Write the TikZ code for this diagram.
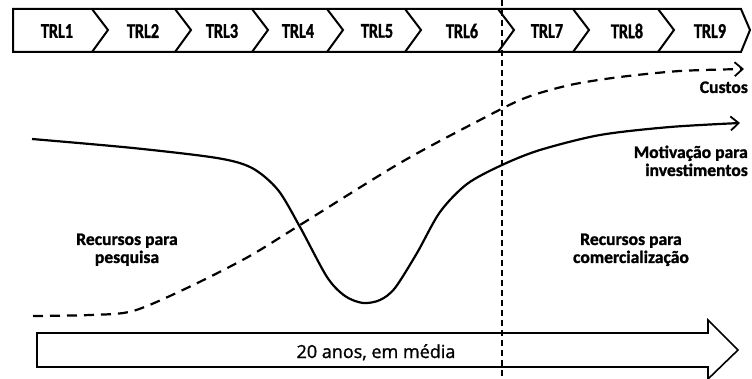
\documentclass[tikz,border=0pt]{standalone}
\usepackage{fontspec}
\setmainfont{Carlito}
\newfontfamily\trlfont[FakeStretch=0.77,BoldFeatures={FakeBold=1.2}]{Carlito}
\newfontfamily\txtfont[BoldFeatures={FakeBold=1.3}]{Carlito}
\newfontfamily\durfont[FakeBold=1.2]{Open Sans}
\usetikzlibrary{arrows.meta}
\begin{document}
\begin{tikzpicture}[x=1pt,y=-1pt,
  lbl/.style={font=\trlfont\bfseries\fontsize{21}{23}\selectfont, inner sep=0pt},
  txt/.style={font=\txtfont\bfseries\fontsize{17.6}{19}\selectfont, inner sep=0pt},
  outline/.style={line width=2pt, line join=miter},
  tip/.style={-{Straight Barb[length=8pt,width=14pt,line width=1.8pt]}},
  curve/.style={line width=2.2pt, tip},
  dcurve/.style={line width=2.2pt, dash pattern=on 10pt off 7pt, tip},
  vdash/.style={line width=1.1pt, dash pattern=on 6pt off 4pt}]
\useasboundingbox (0,0) rectangle (752,379);
% chevron band
\draw[outline] (13,9) -- (741,9) -- (750,30) -- (741,52) -- (13,52) -- cycle;
\foreach \b in {92,175,252,327,405,498,573,658}{
  \draw[outline] (\b,9) -- (\b+16,30) -- (\b,52);
}
\node[lbl] (t1) at (57,31) {TRL1};
\node[lbl] (t2) at (143,31) {TRL2};
\node[lbl] (t3) at (222,31) {TRL3};
\node[lbl] (t4) at (298,31) {TRL4};
\node[lbl] (t5) at (377,31) {TRL5};
\node[lbl] (t6) at (462,31) {TRL6};
\node[lbl] (t7) at (547,31) {TRL7};
\node[lbl] (t8) at (627,31) {TRL8};
\node[lbl] (t9) at (710,31) {TRL9};
% vertical dashed line
\coordinate (vtop) at (502,0);
\coordinate (vbot) at (502,379);
\draw[vdash] (vtop) -- (vbot);
% big arrow
\draw[line width=1.6pt, line join=miter] (37,333) -- (708,333) -- (708,320) -- (738,350) -- (708,379) -- (708,367) -- (37,367) -- cycle;
\node[font=\durfont\fontsize{18}{20}\selectfont, inner sep=0pt, anchor=base] (dur) at (376,358) {20 anos, em média};
% curves
\draw[curve] plot[smooth, tension=0.5] coordinates {(32,139) (133,148) (217,158) (252,168) (278,190) (300,227) (327,277) (345,296) (363,303) (380,300) (395,288) (417,253) (440,212) (467,184) (502,165) (540,150) (600,135) (670,127) (740,123)};
\draw[dcurve] plot[smooth, tension=0.5] coordinates {(33,316) (90,315) (133,311) (187,288) (248,257) (300,225) (400,163) (480,120) (525,98) (570,85) (620,77) (680,71) (744,69)};
% labels
\node[txt, anchor=base east] (cust) at (748,93) {Custos};
\node[txt, anchor=base east] (motiv1) at (748,158) {Motivação para};
\node[txt, anchor=base east] (motiv2) at (748,176) {investimentos};
\node[txt, anchor=base] (rp1) at (127,245) {Recursos para};
\node[txt, anchor=base] (rp2) at (127,263) {pesquisa};
\node[txt, anchor=base] (rc1) at (631,245) {Recursos para};
\node[txt, anchor=base] (rc2) at (631,263) {comercialização};
\end{tikzpicture}
\end{document}
